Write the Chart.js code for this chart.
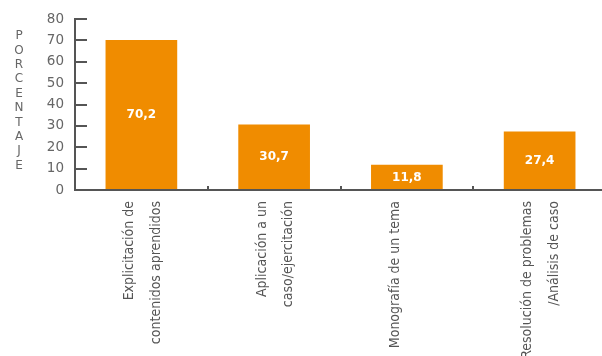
<!DOCTYPE html>
<html>
<head>
<meta charset="utf-8">
<script src="https://cdn.jsdelivr.net/npm/chart.js@4"></script>
<style>
  html, body { margin: 0; padding: 0; background: #fff; overflow: hidden; }
  #caja { position: relative; width: 606px; height: 356px; }
</style>
</head>
<body>
<div id="caja"><canvas id="grafico"></canvas></div>
<script>
const categorias = [
  ["Explicitación de", "contenidos aprendidos"],
  ["Aplicación a un", "caso/ejercitación"],
  "Monografía de un tema",
  ["Resolución de problemas", "/Análisis de caso"]
];
const porcentajes = [70.2, 30.7, 11.8, 27.4];
const ejeYMin = 0;
const ejeYMax = 80;
const ejeYPaso = 10;
const tituloY = "PORCENTAJE";

const GRIS = "#555";

// marcas del eje hacia adentro, titulo vertical y valores dentro de las barras
const extras = {
  id: "extras",
  afterDatasetsDraw(chart) {
    const ctx = chart.ctx;
    const area = chart.chartArea;
    const y = chart.scales.y;
    const x = chart.scales.x;
    ctx.save();
    ctx.strokeStyle = GRIS;
    ctx.lineWidth = 2;
    // marcas del eje Y
    y.ticks.forEach(t => {
      if (t.value === 0) return;
      const py = Math.round(y.getPixelForValue(t.value));
      ctx.beginPath();
      ctx.moveTo(area.left, py);
      ctx.lineTo(area.left + 12, py);
      ctx.stroke();
    });
    // ejes
    ctx.beginPath();
    ctx.moveTo(area.left, area.top - 1);
    ctx.lineTo(area.left, area.bottom);
    ctx.lineTo(area.right, area.bottom);
    ctx.stroke();
    // separadores entre categorías
    for (let i = 1; i < categorias.length; i++) {
      const px = Math.round((x.getPixelForValue(i - 1) + x.getPixelForValue(i)) / 2);
      ctx.beginPath();
      ctx.moveTo(px, area.bottom);
      ctx.lineTo(px, area.bottom - 4);
      ctx.stroke();
    }
    // valores
    ctx.fillStyle = "#fff";
    ctx.font = "bold 12px 'DejaVu Sans', sans-serif";
    ctx.textAlign = "center";
    ctx.textBaseline = "middle";
    const meta = chart.getDatasetMeta(0);
    meta.data.forEach((bar, i) => {
      const medio = (bar.y + bar.base) / 2;
      ctx.fillText(porcentajes[i].toFixed(1).replace(".", ","), bar.x, medio);
    });
    // titulo del eje Y, letras apiladas
    ctx.fillStyle = "#666";
    ctx.font = "12px 'DejaVu Sans', sans-serif";
    tituloY.split("").forEach((letra, i) => {
      ctx.fillText(letra, 19, 36 + i * 14.4);
    });
    ctx.restore();
  }
};

new Chart(document.getElementById("grafico"), {
  type: "bar",
  data: {
    labels: categorias,
    datasets: [{
      data: porcentajes,
      backgroundColor: "#f08c00",
      barPercentage: 0.54,
      categoryPercentage: 1
    }]
  },
  options: {
    responsive: true,
    maintainAspectRatio: false,
    animation: false,
    layout: { padding: { top: 17, right: 0, left: 0, bottom: 0 } },
    plugins: {
      legend: { display: false },
      tooltip: { enabled: false }
    },
    scales: {
      y: {
        min: ejeYMin,
        max: ejeYMax,
        ticks: {
          stepSize: ejeYPaso,
          color: "#666",
          padding: 11,
          font: { family: "'DejaVu Sans', sans-serif", size: 13.5 }
        },
        grid: { display: false, drawTicks: false },
        border: { display: false },
        afterFit: s => { s.width = 75; }
      },
      x: {
        ticks: {
          minRotation: 90,
          maxRotation: 90,
          color: GRIS,
          padding: 11,
          labelOffset: -12,
          autoSkip: false,
          font: { family: "'DejaVu Sans Condensed', sans-serif", size: 14, lineHeight: 1.9 }
        },
        grid: { display: false, drawTicks: false },
        border: { display: false },
        afterFit: s => { s.height = 166; }
      }
    }
  },
  plugins: [extras]
});
</script>
</body>
</html>
